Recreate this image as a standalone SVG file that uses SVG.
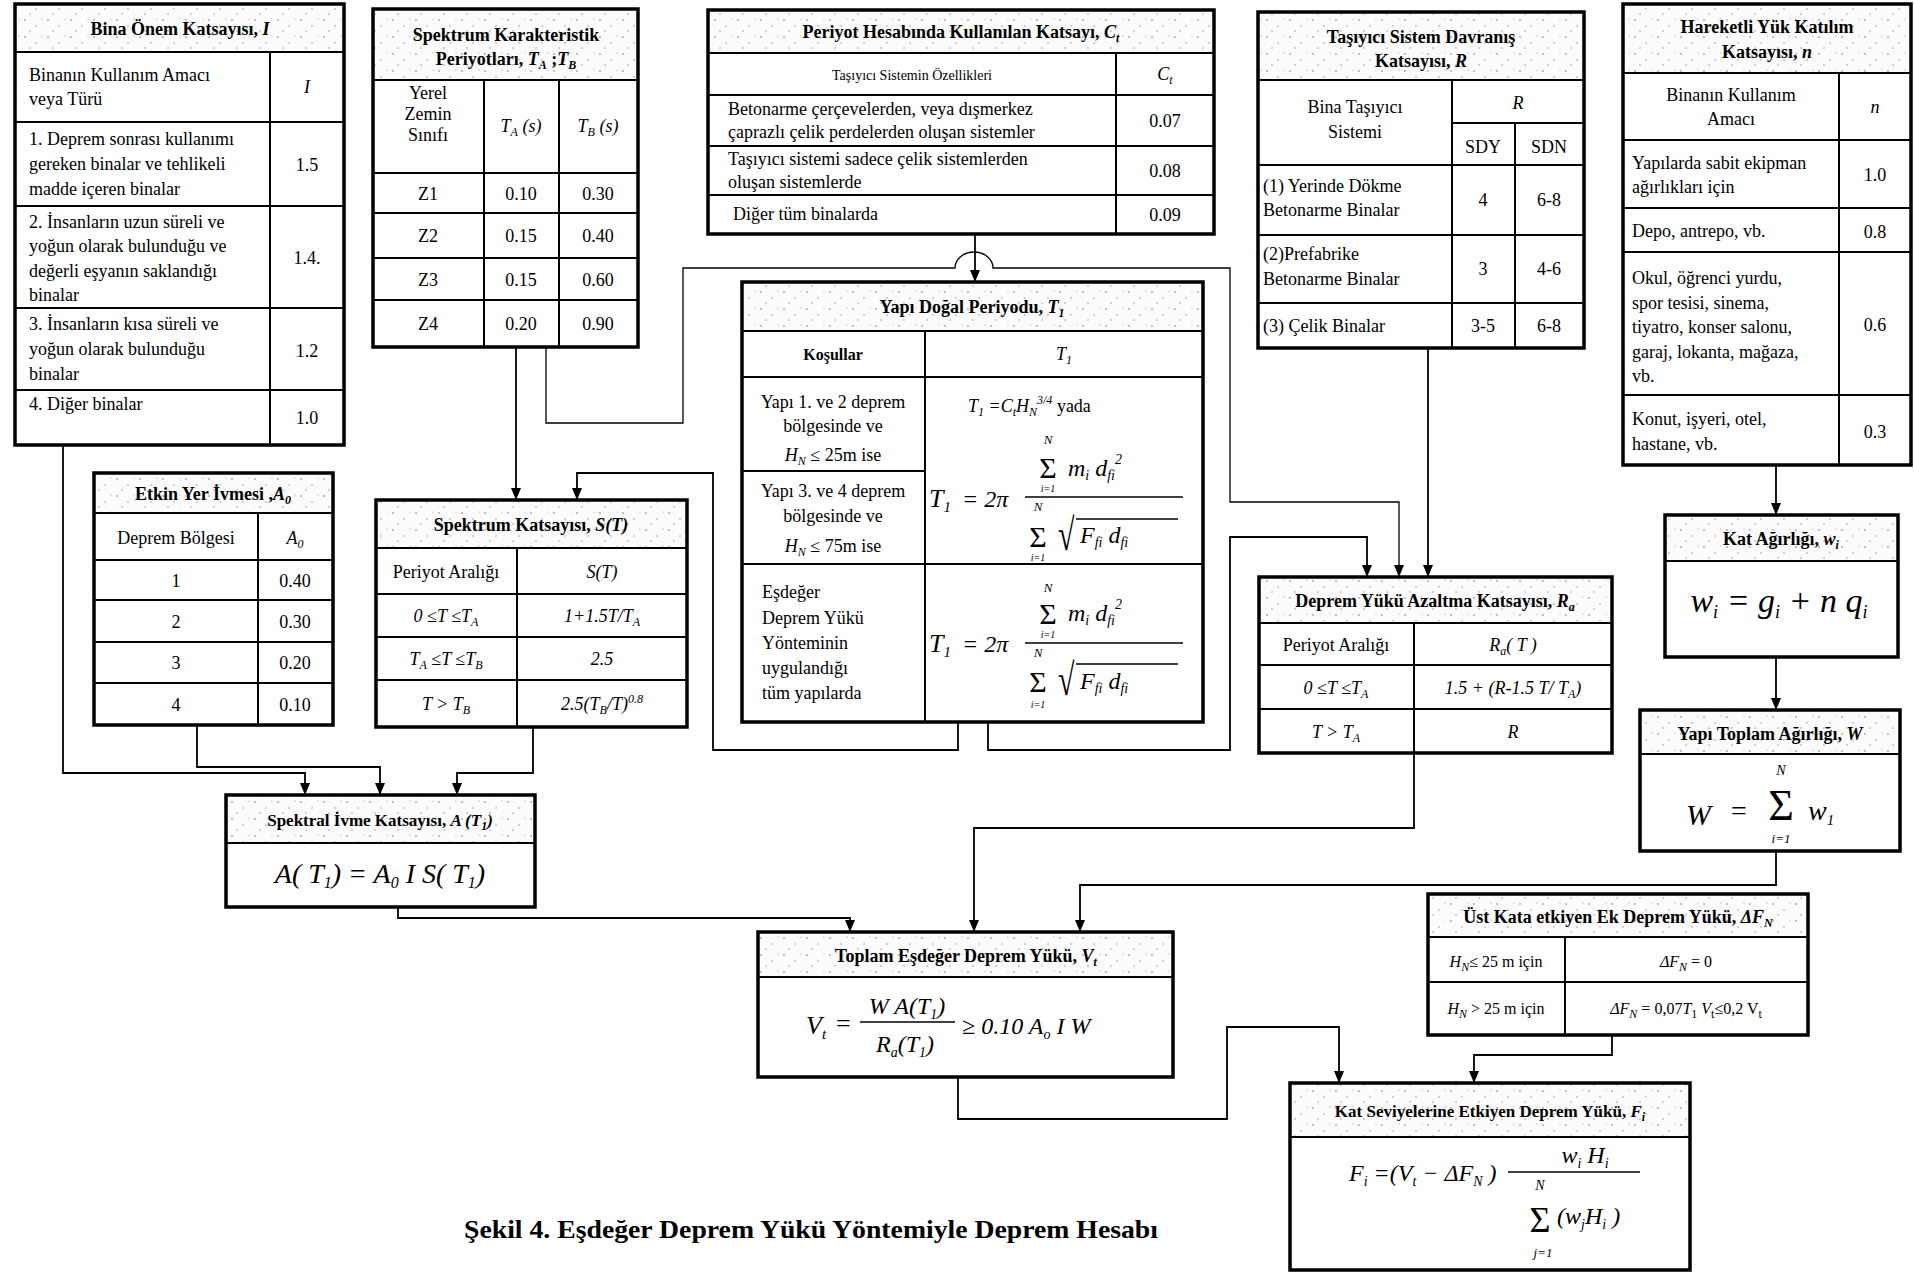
<svg xmlns="http://www.w3.org/2000/svg" width="1914" height="1272" viewBox="0 0 1914 1272">
<defs>
<style>
text{font-family:"Liberation Serif","Times New Roman",serif;fill:#000;font-size:18px}
.h{font-weight:bold;text-anchor:middle}
.c{text-anchor:middle}
.i{font-style:italic}
.s{font-size:12px}
.bg{fill:#fff;stroke:none}
.hd{fill:url(#stip);stroke:none}
.bd{fill:none;stroke:#000;stroke-width:3.5}
.ln{fill:none;stroke:#000;stroke-width:2}
.cn{fill:none;stroke:#000;stroke-width:1.8;marker-end:url(#ah)}
.fl{stroke:#000;stroke-width:1.5}
</style>
<pattern id="stip" patternUnits="userSpaceOnUse" width="23" height="17">
<rect width="23" height="17" fill="#fbfbfb"/>
<circle cx="2" cy="3" r="0.8" fill="#777"/>
<circle cx="13" cy="9" r="0.7" fill="#888"/>
<circle cx="19" cy="2" r="0.6" fill="#999"/>
<circle cx="7" cy="14" r="0.7" fill="#888"/>
</pattern>
<marker id="ah" markerUnits="userSpaceOnUse" markerWidth="12" markerHeight="10" refX="12" refY="5" orient="auto">
<path d="M0,0 L12,5 L0,10 Z" fill="#000"/>
</marker>
</defs>
<rect width="1914" height="1272" fill="#fff"/>

<g id="connectors">
<path class="cn" d="M63 445 V773 H305 V795"/>
<path class="cn" d="M197 725 V767 H380 V795"/>
<path class="cn" d="M533 727 V773 H457 V795"/>
<path class="cn" d="M398 907 V918 H850 V932"/>
<path class="cn" d="M1414 753 V828 H974 V932"/>
<path class="cn" d="M1776 851 V885 H1080 V932"/>
<path class="cn" d="M958 1077 V1119 H1227 V1027 H1339 V1083"/>
<path class="cn" d="M1612 1035 V1055 H1474 V1083"/>
<path class="cn" d="M975 234 V282"/>
<path class="cn" style="stroke-width:1.3" d="M546 347 V423 H683 V268 H955 A19 16 0 0 1 993 268 H1230 V502 H1399 V577"/>
<path class="cn" d="M516 347 V500"/>
<path class="cn" d="M958 722 V750 H713 V473 H577 V500"/>
<path class="cn" d="M988 722 V750 H1230 V537 H1367 V577"/>
<path class="cn" d="M1428 348 V577"/>
<path class="cn" d="M1776 465 V515"/>
<path class="cn" d="M1776 657 V710"/>
</g>

<g id="bina">
<rect class="bg" x="15" y="4" width="329" height="441"/>
<rect class="hd" x="15" y="4" width="329" height="48"/>
<path class="ln" d="M15 52H344M15 122H344M15 206H344M15 308H344M15 390H344M270 52V445"/>
<rect class="bd" x="15" y="4" width="329" height="441"/>
<text class="h" x="180" y="35">Bina Önem Katsayısı, <tspan class="i">I</tspan></text>
<text x="29" y="81">Binanın Kullanım Amacı</text>
<text x="29" y="105">veya Türü</text>
<text class="c i" x="307" y="93">I</text>
<text x="29" y="145">1. Deprem sonrası kullanımı</text>
<text x="29" y="170">gereken binalar ve tehlikeli</text>
<text x="29" y="195">madde içeren binalar</text>
<text class="c" x="307" y="171">1.5</text>
<text x="29" y="228">2. İnsanların uzun süreli ve</text>
<text x="29" y="252">yoğun olarak bulunduğu ve</text>
<text x="29" y="277">değerli eşyanın saklandığı</text>
<text x="29" y="301">binalar</text>
<text class="c" x="307" y="264">1.4.</text>
<text x="29" y="330">3. İnsanların kısa süreli ve</text>
<text x="29" y="355">yoğun olarak bulunduğu</text>
<text x="29" y="380">binalar</text>
<text class="c" x="307" y="357">1.2</text>
<text x="29" y="410">4. Diğer binalar</text>
<text class="c" x="307" y="424">1.0</text>
</g>

<g id="spektrum-karakteristik">
<rect class="bg" x="373" y="9" width="265" height="338"/>
<rect class="hd" x="373" y="9" width="265" height="71"/>
<path class="ln" d="M373 80H638M373 173H638M373 213H638M373 258H638M373 300H638M484 80V347M559 80V347"/>
<rect class="bd" x="373" y="9" width="265" height="338"/>
<text class="h" x="506" y="41">Spektrum Karakteristik</text>
<text class="h" x="506" y="65">Periyotları, <tspan class="i">T<tspan class="s" dy="4">A</tspan></tspan><tspan dy="-4"> ;</tspan><tspan class="i">T<tspan class="s" dy="4">B</tspan></tspan></text>
<text class="c" x="428" y="99">Yerel</text>
<text class="c" x="428" y="120">Zemin</text>
<text class="c" x="428" y="141">Sınıfı</text>
<text class="c i" x="521" y="132">T<tspan class="s" dy="4">A</tspan><tspan dy="-4"> (s)</tspan></text>
<text class="c i" x="598" y="132">T<tspan class="s" dy="4">B</tspan><tspan dy="-4"> (s)</tspan></text>
<text class="c" x="428" y="200">Z1</text><text class="c" x="521" y="200">0.10</text><text class="c" x="598" y="200">0.30</text>
<text class="c" x="428" y="242">Z2</text><text class="c" x="521" y="242">0.15</text><text class="c" x="598" y="242">0.40</text>
<text class="c" x="428" y="286">Z3</text><text class="c" x="521" y="286">0.15</text><text class="c" x="598" y="286">0.60</text>
<text class="c" x="428" y="330">Z4</text><text class="c" x="521" y="330">0.20</text><text class="c" x="598" y="330">0.90</text>
</g>

<g id="periyot-katsayi">
<rect class="bg" x="708" y="10" width="506" height="224"/>
<rect class="hd" x="708" y="10" width="506" height="43"/>
<path class="ln" d="M708 53H1214M708 95H1214M708 146H1214M708 195H1214M1116 53V234"/>
<rect class="bd" x="708" y="10" width="506" height="224"/>
<text class="h" x="961" y="38">Periyot Hesabında Kullanılan Katsayı, <tspan class="i">C<tspan class="s" dy="4">t</tspan></tspan></text>
<text class="c" x="912" y="80" style="font-size:14px">Taşıyıcı Sistemin Özellikleri</text>
<text class="c i" x="1165" y="80">C<tspan class="s" dy="4">t</tspan></text>
<text x="728" y="115">Betonarme çerçevelerden, veya dışmerkez</text>
<text x="728" y="138">çaprazlı çelik perdelerden oluşan sistemler</text>
<text class="c" x="1165" y="127">0.07</text>
<text x="728" y="165">Taşıyıcı sistemi sadece çelik sistemlerden</text>
<text x="728" y="188">oluşan sistemlerde</text>
<text class="c" x="1165" y="177">0.08</text>
<text x="733" y="220">Diğer tüm binalarda</text>
<text class="c" x="1165" y="221">0.09</text>
</g>

<g id="tasiyici-sistem">
<rect class="bg" x="1258" y="12" width="326" height="336"/>
<rect class="hd" x="1258" y="12" width="326" height="68"/>
<path class="ln" d="M1258 80H1584M1452 123H1584M1258 165H1584M1258 235H1584M1258 303H1584M1452 80V348M1515 123V348"/>
<rect class="bd" x="1258" y="12" width="326" height="336"/>
<text class="h" x="1421" y="43">Taşıyıcı Sistem Davranış</text>
<text class="h" x="1421" y="67">Katsayısı, <tspan class="i">R</tspan></text>
<text class="c" x="1355" y="113">Bina Taşıyıcı</text>
<text class="c" x="1355" y="138">Sistemi</text>
<text class="c i" x="1518" y="109">R</text>
<text class="c" x="1483" y="153">SDY</text>
<text class="c" x="1549" y="153">SDN</text>
<text x="1263" y="192">(1) Yerinde Dökme</text>
<text x="1263" y="216">Betonarme Binalar</text>
<text class="c" x="1483" y="206">4</text><text class="c" x="1549" y="206">6-8</text>
<text x="1263" y="260">(2)Prefabrike</text>
<text x="1263" y="285">Betonarme Binalar</text>
<text class="c" x="1483" y="275">3</text><text class="c" x="1549" y="275">4-6</text>
<text x="1263" y="332">(3) Çelik Binalar</text>
<text class="c" x="1483" y="332">3-5</text><text class="c" x="1549" y="332">6-8</text>
</g>

<g id="hareketli-yuk">
<rect class="bg" x="1623" y="4" width="288" height="461"/>
<rect class="hd" x="1623" y="4" width="288" height="69"/>
<path class="ln" d="M1623 73H1911M1623 140H1911M1623 208H1911M1623 252H1911M1623 395H1911M1839 73V465"/>
<rect class="bd" x="1623" y="4" width="288" height="461"/>
<text class="h" x="1767" y="33">Hareketli Yük Katılım</text>
<text class="h" x="1767" y="58">Katsayısı, <tspan class="i">n</tspan></text>
<text class="c" x="1731" y="101">Binanın Kullanım</text>
<text class="c" x="1731" y="125">Amacı</text>
<text class="c i" x="1875" y="113">n</text>
<text x="1632" y="169">Yapılarda sabit ekipman</text>
<text x="1632" y="193">ağırlıkları için</text>
<text class="c" x="1875" y="181">1.0</text>
<text x="1632" y="237">Depo, antrepo, vb.</text>
<text class="c" x="1875" y="238">0.8</text>
<text x="1632" y="284">Okul, öğrenci yurdu,</text>
<text x="1632" y="309">spor tesisi, sinema,</text>
<text x="1632" y="333">tiyatro, konser salonu,</text>
<text x="1632" y="358">garaj, lokanta, mağaza,</text>
<text x="1632" y="382">vb.</text>
<text class="c" x="1875" y="331">0.6</text>
<text x="1632" y="425">Konut, işyeri, otel,</text>
<text x="1632" y="450">hastane, vb.</text>
<text class="c" x="1875" y="438">0.3</text>
</g>

<g id="yapi-dogal-periyodu">
<rect class="bg" x="742" y="282" width="461" height="440"/>
<rect class="hd" x="742" y="282" width="461" height="49"/>
<path class="ln" d="M742 331H1203M742 377H1203M742 471H925M742 564H1203M925 331V722"/>
<rect class="bd" x="742" y="282" width="461" height="440"/>
<text class="h" x="972" y="313">Yapı Doğal Periyodu, <tspan class="i">T<tspan class="s" dy="4">1</tspan></tspan></text>
<text class="h" x="833" y="360" style="font-size:16px">Koşullar</text>
<text class="c i" x="1064" y="360">T<tspan class="s" dy="4">1</tspan></text>
<text class="c" x="833" y="408">Yapı 1. ve 2 deprem</text>
<text class="c" x="833" y="432">bölgesinde ve</text>
<text class="c" x="833" y="461"><tspan class="i">H<tspan class="s" dy="4">N</tspan></tspan><tspan dy="-4"> ≤ 25m ise</tspan></text>
<text class="c" x="833" y="497">Yapı 3. ve 4 deprem</text>
<text class="c" x="833" y="522">bölgesinde ve</text>
<text class="c" x="833" y="552"><tspan class="i">H<tspan class="s" dy="4">N</tspan></tspan><tspan dy="-4"> ≤ 75m ise</tspan></text>
<text x="762" y="598">Eşdeğer</text>
<text x="762" y="624">Deprem Yükü</text>
<text x="762" y="649">Yönteminin</text>
<text x="762" y="674">uygulandığı</text>
<text x="762" y="699">tüm yapılarda</text>
<text class="i" x="968" y="412">T<tspan class="s" dy="4">1</tspan><tspan dy="-4"> =C</tspan><tspan class="s" dy="4">t</tspan><tspan dy="-4">H</tspan><tspan class="s" dy="4">N</tspan><tspan class="s" dy="-12">3/4</tspan><tspan dy="8" style="font-style:normal"> yada</tspan></text>
<text class="i" x="929" y="507" style="font-size:26px">T<tspan style="font-size:15px" dy="5">1</tspan></text>
<text class="i" x="962" y="507" style="font-size:24px">= 2π</text>
<text class="c i" x="1048" y="444" style="font-size:13px">N</text>
<text class="c" x="1048" y="478" style="font-size:30px">Σ</text>
<text class="c i" x="1048" y="492" style="font-size:10px">i=1</text>
<text class="i" x="1068" y="476" style="font-size:24px">m<tspan style="font-size:14px" dy="4">i</tspan><tspan dy="-4"> d</tspan><tspan style="font-size:14px" dy="4">fi</tspan><tspan style="font-size:14px" dy="-16">2</tspan></text>
<line class="fl" x1="1025" y1="497" x2="1183" y2="497"/>
<text class="c i" x="1038" y="511" style="font-size:13px">N</text>
<text class="c" x="1038" y="547" style="font-size:30px">Σ</text>
<text class="c i" x="1038" y="561" style="font-size:10px">i=1</text>
<text transform="translate(1058,550) scale(1,1.5)" style="font-size:30px">√</text>
<line class="fl" x1="1076" y1="519" x2="1178" y2="519"/>
<text class="i" x="1080" y="543" style="font-size:24px">F<tspan style="font-size:14px" dy="4">fi</tspan><tspan dy="-4"> d</tspan><tspan style="font-size:14px" dy="4">fi</tspan></text>
<text class="i" x="929" y="652" style="font-size:26px">T<tspan style="font-size:15px" dy="5">1</tspan></text>
<text class="i" x="962" y="652" style="font-size:24px">= 2π</text>
<text class="c i" x="1048" y="592" style="font-size:13px">N</text>
<text class="c" x="1048" y="624" style="font-size:30px">Σ</text>
<text class="c i" x="1048" y="638" style="font-size:10px">i=1</text>
<text class="i" x="1068" y="621" style="font-size:24px">m<tspan style="font-size:14px" dy="4">i</tspan><tspan dy="-4"> d</tspan><tspan style="font-size:14px" dy="4">fi</tspan><tspan style="font-size:14px" dy="-16">2</tspan></text>
<line class="fl" x1="1025" y1="643" x2="1183" y2="643"/>
<text class="c i" x="1038" y="657" style="font-size:13px">N</text>
<text class="c" x="1038" y="692" style="font-size:30px">Σ</text>
<text class="c i" x="1038" y="708" style="font-size:10px">i=1</text>
<text transform="translate(1058,695) scale(1,1.5)" style="font-size:30px">√</text>
<line class="fl" x1="1076" y1="664" x2="1178" y2="664"/>
<text class="i" x="1080" y="689" style="font-size:24px">F<tspan style="font-size:14px" dy="4">fi</tspan><tspan dy="-4"> d</tspan><tspan style="font-size:14px" dy="4">fi</tspan></text>
</g>

<g id="etkin-yer-ivmesi">
<rect class="bg" x="94" y="473" width="239" height="252"/>
<rect class="hd" x="94" y="473" width="239" height="40"/>
<path class="ln" d="M94 513H333M94 560H333M94 600H333M94 642H333M94 683H333M258 513V725"/>
<rect class="bd" x="94" y="473" width="239" height="252"/>
<text class="h" x="213" y="500">Etkin Yer İvmesi ,<tspan class="i">A<tspan class="s" dy="4">0</tspan></tspan></text>
<text class="c" x="176" y="544">Deprem Bölgesi</text>
<text class="c i" x="295" y="544">A<tspan class="s" dy="4">0</tspan></text>
<text class="c" x="176" y="587">1</text><text class="c" x="295" y="587">0.40</text>
<text class="c" x="176" y="628">2</text><text class="c" x="295" y="628">0.30</text>
<text class="c" x="176" y="669">3</text><text class="c" x="295" y="669">0.20</text>
<text class="c" x="176" y="711">4</text><text class="c" x="295" y="711">0.10</text>
</g>

<g id="spektrum-katsayisi">
<rect class="bg" x="376" y="500" width="311" height="227"/>
<rect class="hd" x="376" y="500" width="311" height="48"/>
<path class="ln" d="M376 548H687M376 594H687M376 637H687M376 680H687M517 548V727"/>
<rect class="bd" x="376" y="500" width="311" height="227"/>
<text class="h" x="531" y="531">Spektrum Katsayısı, <tspan class="i">S(T)</tspan></text>
<text class="c" x="446" y="578">Periyot Aralığı</text>
<text class="c i" x="602" y="578">S(T)</text>
<text class="c i" x="446" y="622">0 ≤T ≤T<tspan class="s" dy="4">A</tspan></text>
<text class="c i" x="602" y="622">1+1.5T/T<tspan class="s" dy="4">A</tspan></text>
<text class="c i" x="446" y="665">T<tspan class="s" dy="4">A</tspan><tspan dy="-4"> ≤T ≤T</tspan><tspan class="s" dy="4">B</tspan></text>
<text class="c i" x="602" y="665">2.5</text>
<text class="c i" x="446" y="710">T &gt; T<tspan class="s" dy="4">B</tspan></text>
<text class="c i" x="602" y="710">2.5(T<tspan class="s" dy="4">B</tspan><tspan dy="-4">/T)</tspan><tspan class="s" dy="-7">0.8</tspan></text>
</g>

<g id="deprem-yuku-azaltma">
<rect class="bg" x="1259" y="577" width="353" height="176"/>
<rect class="hd" x="1259" y="577" width="353" height="46"/>
<path class="ln" d="M1259 623H1612M1259 665H1612M1259 709H1612M1414 623V753"/>
<rect class="bd" x="1259" y="577" width="353" height="176"/>
<text class="h" x="1435" y="607">Deprem Yükü Azaltma Katsayısı, <tspan class="i">R<tspan class="s" dy="4">a</tspan></tspan></text>
<text class="c" x="1336" y="651">Periyot Aralığı</text>
<text class="c i" x="1513" y="651">R<tspan class="s" dy="4">a</tspan><tspan dy="-4">( T )</tspan></text>
<text class="c i" x="1336" y="694">0 ≤T ≤T<tspan class="s" dy="4">A</tspan></text>
<text class="c i" x="1513" y="694">1.5 + (R-1.5 T/ T<tspan class="s" dy="4">A</tspan><tspan dy="-4">)</tspan></text>
<text class="c i" x="1336" y="738">T &gt; T<tspan class="s" dy="4">A</tspan></text>
<text class="c i" x="1513" y="738">R</text>
</g>

<g id="kat-agirligi">
<rect class="bg" x="1665" y="515" width="233" height="142"/>
<rect class="hd" x="1665" y="515" width="233" height="46"/>
<path class="ln" d="M1665 561H1898"/>
<rect class="bd" x="1665" y="515" width="233" height="142"/>
<text class="h" x="1781" y="545">Kat Ağırlığı, <tspan class="i">w<tspan class="s" dy="4">i</tspan></tspan></text>
<text class="c i" x="1779" y="612" style="font-size:34px">w<tspan style="font-size:18px" dy="6">i</tspan><tspan dy="-6"> = g</tspan><tspan style="font-size:18px" dy="6">i</tspan><tspan dy="-6"> + n q</tspan><tspan style="font-size:18px" dy="6">i</tspan></text>
</g>

<g id="yapi-toplam-agirligi">
<rect class="bg" x="1640" y="710" width="260" height="141"/>
<rect class="hd" x="1640" y="710" width="260" height="44"/>
<path class="ln" d="M1640 754H1900"/>
<rect class="bd" x="1640" y="710" width="260" height="141"/>
<text class="h" x="1770" y="740">Yapı Toplam Ağırlığı, <tspan class="i">W</tspan></text>
<text class="i" x="1686" y="825" style="font-size:30px">W</text>
<text x="1731" y="820" style="font-size:28px">=</text>
<text class="c i" x="1781" y="775" style="font-size:14px">N</text>
<text class="c" x="1781" y="820" style="font-size:44px">Σ</text>
<text class="c i" x="1781" y="843" style="font-size:13px">i=1</text>
<text class="i" x="1808" y="820" style="font-size:28px">w<tspan style="font-size:15px" dy="5">1</tspan></text>
</g>

<g id="spektral-ivme">
<rect class="bg" x="226" y="795" width="309" height="112"/>
<rect class="hd" x="226" y="795" width="309" height="48"/>
<path class="ln" d="M226 843H535"/>
<rect class="bd" x="226" y="795" width="309" height="112"/>
<text class="h" x="380" y="826" style="font-size:17px">Spektral İvme Katsayısı, <tspan class="i">A (T<tspan class="s" dy="4">1</tspan><tspan dy="-4">)</tspan></tspan></text>
<text class="c i" x="380" y="883" style="font-size:28px">A( T<tspan style="font-size:16px" dy="5">1</tspan><tspan dy="-5">) = A</tspan><tspan style="font-size:16px" dy="5">0</tspan><tspan dy="-5"> I S( T</tspan><tspan style="font-size:16px" dy="5">1</tspan><tspan dy="-5">)</tspan></text>
</g>

<g id="toplam-esdeger">
<rect class="bg" x="758" y="932" width="415" height="145"/>
<rect class="hd" x="758" y="932" width="415" height="45"/>
<path class="ln" d="M758 977H1173"/>
<rect class="bd" x="758" y="932" width="415" height="145"/>
<text class="h" x="966" y="962">Toplam Eşdeğer Deprem Yükü, <tspan class="i">V<tspan class="s" dy="4">t</tspan></tspan></text>
<text class="i" x="806" y="1034" style="font-size:26px">V<tspan style="font-size:15px" dy="5">t</tspan></text>
<text x="836" y="1032" style="font-size:26px">=</text>
<text class="c i" x="907" y="1014" style="font-size:24px">W  A(T<tspan style="font-size:14px" dy="5">1</tspan><tspan dy="-5">)</tspan></text>
<line class="fl" x1="860" y1="1022" x2="955" y2="1022"/>
<text class="c i" x="905" y="1052" style="font-size:24px">R<tspan style="font-size:14px" dy="5">a</tspan><tspan dy="-5">(T</tspan><tspan style="font-size:14px" dy="5">1</tspan><tspan dy="-5">)</tspan></text>
<text class="i" x="962" y="1034" style="font-size:24px">≥  0.10 A<tspan style="font-size:14px" dy="5">o</tspan><tspan dy="-5"> I W</tspan></text>
</g>

<g id="ust-kata-ek-yuk">
<rect class="bg" x="1428" y="894" width="380" height="141"/>
<rect class="hd" x="1428" y="894" width="380" height="43"/>
<path class="ln" d="M1428 937H1808M1428 982H1808M1565 937V1035"/>
<rect class="bd" x="1428" y="894" width="380" height="141"/>
<text class="h" x="1618" y="923">Üst Kata etkiyen Ek Deprem Yükü, <tspan class="i">ΔF<tspan class="s" dy="4">N</tspan></tspan></text>
<text class="c" x="1496" y="967" style="font-size:16px"><tspan class="i">H<tspan class="s" dy="4">N</tspan></tspan><tspan dy="-4">≤ 25 m için</tspan></text>
<text class="c" x="1686" y="967" style="font-size:16px"><tspan class="i">ΔF<tspan class="s" dy="4">N</tspan></tspan><tspan dy="-4"> = 0</tspan></text>
<text class="c" x="1496" y="1014" style="font-size:16px"><tspan class="i">H<tspan class="s" dy="4">N</tspan></tspan><tspan dy="-4"> &gt; 25 m için</tspan></text>
<text class="c" x="1686" y="1014" style="font-size:16px"><tspan class="i">ΔF<tspan class="s" dy="4">N</tspan></tspan><tspan dy="-4"> = 0,07</tspan><tspan class="i">T</tspan><tspan class="s" dy="4">1</tspan><tspan class="i" dy="-4"> V</tspan><tspan class="s" dy="4">t</tspan><tspan dy="-4">≤0,2 V</tspan><tspan class="s" dy="4">t</tspan></text>
</g>

<g id="kat-seviyelerine-yuk">
<rect class="bg" x="1290" y="1083" width="400" height="187"/>
<rect class="hd" x="1290" y="1083" width="400" height="54"/>
<path class="ln" d="M1290 1137H1690"/>
<rect class="bd" x="1290" y="1083" width="400" height="187"/>
<text class="h" x="1490" y="1117" style="font-size:17px">Kat Seviyelerine Etkiyen Deprem Yükü, <tspan class="i">F<tspan class="s" dy="4">i</tspan></tspan></text>
<text class="i" x="1349" y="1181" style="font-size:24px">F<tspan style="font-size:14px" dy="5">i</tspan><tspan dy="-5">  =(V</tspan><tspan style="font-size:14px" dy="5">t</tspan><tspan dy="-5"> − ΔF</tspan><tspan style="font-size:14px" dy="5">N</tspan><tspan dy="-5"> )</tspan></text>
<text class="c i" x="1585" y="1163" style="font-size:24px">w<tspan style="font-size:14px" dy="5">i</tspan><tspan dy="-5"> H</tspan><tspan style="font-size:14px" dy="5">i</tspan></text>
<line class="fl" x1="1508" y1="1172" x2="1640" y2="1172"/>
<text class="c i" x="1540" y="1190" style="font-size:14px">N</text>
<text class="c" x="1540" y="1232" style="font-size:36px">Σ</text>
<text class="c i" x="1543" y="1257" style="font-size:13px">j=1</text>
<text class="i" x="1557" y="1224" style="font-size:24px">(w<tspan style="font-size:14px" dy="5">j</tspan><tspan dy="-5">H</tspan><tspan style="font-size:14px" dy="5">i</tspan><tspan dy="-5"> )</tspan></text>
</g>

<text x="464" y="1238" style="font-size:26px;font-weight:bold" textLength="694" lengthAdjust="spacingAndGlyphs">Şekil 4. Eşdeğer Deprem Yükü Yöntemiyle Deprem Hesabı</text>
</svg>
